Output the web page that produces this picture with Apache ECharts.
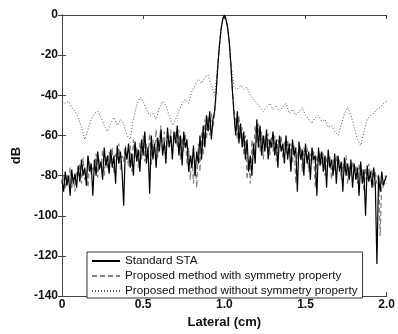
<!DOCTYPE html>
<html><head><meta charset="utf-8">
<script src="https://cdn.jsdelivr.net/npm/echarts@6/dist/echarts.min.js"></script>
<style>html,body{margin:0;padding:0;background:#fff}#c{width:398px;height:334px}</style>
</head><body><div id="c"></div>
<script>
// x positions (cm): solid & dashed every 0.01, dotted every 0.02
const xStepFine = 0.01;
const xStepCoarse = 0.02;
const seriesNames = ['Standard STA','Proposed method with symmetry property','Proposed method without symmetry property'];
const xTickLabels = ['0','0.5','1.0','1.5','2.0'];

const standardSTA = [
-82,-88,-78,-85,-80,-90,-77,-84,-79,-86,
-75,-83,-72,-80,-76,-85,-70,-78,-74,-90,
-72,-80,-68,-77,-73,-82,-66,-75,-70,-79,
-67,-76,-70,-84,-65,-74,-68,-78,-95,-66,
-72,-64,-76,-69,-80,-63,-73,-67,-78,-62,
-70,-58,-74,-66,-89,-60,-72,-64,-76,-61,
-68,-57,-70,-63,-74,-56,-66,-60,-72,-58,
-64,-55,-70,-60,-75,-58,-66,-62,-78,-70,
-76,-65,-80,-68,-74,-60,-72,-55,-66,-50,
-58,-48,-62,-52,
-48,-38,-25,-15,-7,-2,0,-2,-6,-13,-24,-38,-50,
-60,-48,-64,
-54,-66,-58,-72,-62,-78,-70,-80,-64,-74,
-52,-66,-55,-70,-60,-68,-57,-72,-62,-66,
-58,-70,-62,-76,-60,-68,-64,-74,-60,-72,
-64,-78,-62,-70,-66,-88,-63,-72,-67,-80,
-64,-74,-68,-82,-66,-72,-70,-90,-66,-75,
-68,-78,-70,-86,-67,-76,-72,-80,-69,-84,
-70,-78,-73,-88,-71,-80,-74,-82,-72,-86,
-74,-82,-76,-90,-73,-84,-77,-100,-75,-83,
-78,-86,-76,-84,-124,-80,-88,-78,-85,-82,
-80];

const withSymmetry = [
-84,-80,-87,-79,-83,-76,-86,-81,-88,-78,
-80,-74,-84,-71,-82,-77,-86,-73,-79,-76,
-78,-69,-81,-72,-76,-67,-80,-71,-77,-68,
-74,-66,-79,-69,-72,-64,-77,-70,-73,-65,
-70,-75,-65,-78,-62,-71,-66,-76,-63,-72,
-60,-73,-64,-70,-59,-75,-62,-69,-57,-71,
-62,-55,-68,-58,-71,-60,-64,-57,-69,-61,
-58,-66,-57,-72,-61,-68,-59,-74,-66,-82,
-70,-84,-72,-86,-64,-78,-58,-70,-52,-62,
-50,-60,-49,-56,
-50,-38,-25,-15,-7,-2,0,-2,-6,-13,-24,-38,-48,
-52,-62,-50,
-62,-56,-70,-60,-82,-72,-84,-62,-70,-55,
-64,-54,-68,-58,-72,-60,-66,-59,-70,-61,
-68,-60,-73,-62,-66,-60,-71,-63,-69,-62,
-70,-64,-74,-65,-84,-68,-70,-65,-78,-66,
-70,-66,-78,-69,-74,-68,-86,-70,-73,-68,
-74,-69,-80,-71,-75,-70,-82,-72,-78,-70,
-76,-72,-82,-74,-78,-70,-84,-75,-80,-73,
-78,-75,-84,-74,-80,-77,-88,-76,-82,-74,
-80,-77,-86,-78,-84,-79,-110,-82,-86,-80,
-84];

const withoutSymmetry = [
-43,-44,-43,-46,-48,-51,-56,-62,-57,-52,
-49,-48,-51,-55,-58,-54,-51,-55,-52,-54,
-60,-62,-52,-45,-41,-43,-47,-50,-49,-52,
-46,-43,-45,-50,-55,-52,-48,-44,-42,-44,
-38,-35,-32,-34,-31,-30,-35,-40,-25,-7,
0,-6,-24,-36,-37,-35,-37,-36,-40,-42,
-44,-46,-48,-46,-44,-47,-45,-48,-46,-44,
-49,-47,-50,-48,-46,-50,-52,-54,-51,-50,
-53,-52,-56,-55,-58,-60,-55,-49,-46,-50,
-56,-62,-65,-58,-52,-50,-49,-47,-46,-44,-43];

function pairs(arr, step){ return arr.map((v,i)=>[+(i*step).toFixed(2), v]); }

const chart = echarts.init(document.getElementById('c'), null, {renderer:'canvas'});
const axisCol = '#444';
const FF = 'Liberation Sans, Arial, sans-serif';
const lblFont = {fontFamily:FF, fontWeight:'bold', fontSize:12, color:'#111'};
chart.setOption({
  animation:false,
  backgroundColor:'#fff',
  grid:{left:62,right:8,top:15,bottom:35},
  legend:{
    show:true,
    orient:'vertical', left:87, top:252,
    backgroundColor:'#fff', borderColor:'#333', borderWidth:1,
    padding:[3,5,1,4], itemGap:3, itemWidth:28, itemHeight:12,
    itemStyle:{opacity:0},
    textStyle:{fontFamily:FF, fontSize:11.7, color:'#111'},
    data:seriesNames
  },
  xAxis:[{
    type:'value', min:0, max:2, interval:0.5,
    name:'Lateral (cm)', nameLocation:'middle', nameGap:15,
    nameTextStyle:{fontFamily:FF, fontWeight:'bold', fontSize:13, color:'#111'},
    axisLine:{show:true, onZero:false, lineStyle:{color:axisCol}},
    axisTick:{show:true, inside:true, length:4, lineStyle:{color:axisCol}},
    axisLabel:Object.assign({margin:3, formatter:(v)=>xTickLabels[Math.round(v/0.5)]}, lblFont),
    splitLine:{show:false}
  },{
    type:'value', position:'top', min:0, max:2, interval:0.5,
    axisLine:{show:true, lineStyle:{color:axisCol}},
    axisTick:{show:true, inside:true, length:4, lineStyle:{color:axisCol}},
    axisLabel:{show:false}, splitLine:{show:false}
  }],
  yAxis:[{
    type:'value', min:-140, max:0, interval:20,
    name:'dB', nameLocation:'middle', nameGap:34,
    nameTextStyle:{fontFamily:FF, fontWeight:'bold', fontSize:13, color:'#111'},
    axisLine:{show:true, onZero:false, lineStyle:{color:axisCol}},
    axisTick:{show:true, inside:true, length:4, lineStyle:{color:axisCol}},
    axisLabel:Object.assign({margin:4}, lblFont),
    splitLine:{show:false}
  },{
    type:'value', position:'right', min:-140, max:0, interval:20,
    axisLine:{show:true, lineStyle:{color:axisCol}},
    axisTick:{show:true, inside:true, length:4, lineStyle:{color:axisCol}},
    axisLabel:{show:false}, splitLine:{show:false}
  }],
  series:[
    {name:seriesNames[0], type:'line', symbol:'none', data:pairs(standardSTA, xStepFine),
     lineStyle:{color:'#000', width:1.2}, itemStyle:{color:'#000'}, z:3},
    {name:seriesNames[1], type:'line', symbol:'none', data:pairs(withSymmetry, xStepFine),
     lineStyle:{color:'#808080', width:1.2, type:[5,3]}, itemStyle:{color:'#808080'}, z:2},
    {name:seriesNames[2], type:'line', symbol:'none', data:pairs(withoutSymmetry, xStepCoarse),
     lineStyle:{color:'#555', width:1, type:[1,2]}, itemStyle:{color:'#555'}, z:1}
  ]
});
</script></body></html>
